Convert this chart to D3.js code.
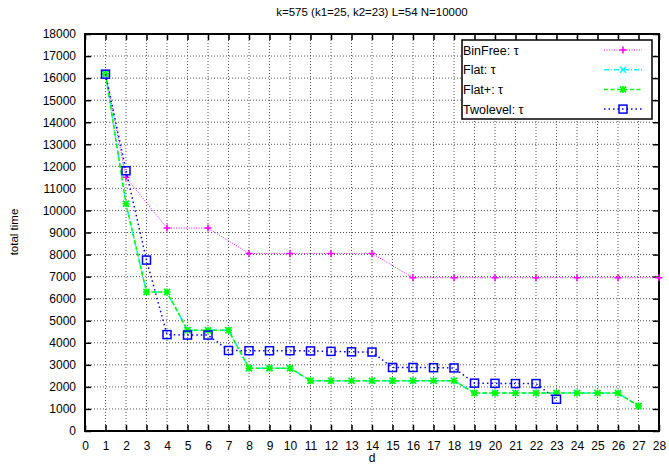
<!DOCTYPE html>
<html>
<head>
<meta charset="utf-8">
<script src="https://cdn.jsdelivr.net/npm/d3@7"></script>
<style>
  body { margin: 0; background: #fff; }
  text { font-family: "Liberation Sans", Arial, sans-serif; }
</style>
</head>
<body>
<svg id="chart"></svg>
<script>
// data
var dValues = d3.range(1, 28);
var binFreeD = [1, 2, 4, 6, 8, 10, 12, 14, 16, 18, 20, 22, 24, 26, 28];
var binFree = [16200, 11500, 9200, 9200, 8050, 8050, 8050, 8050, 6950, 6950, 6950, 6950, 6950, 6950, 6950];
var flatPlus = [16200, 10300, 6300, 6300, 4570, 4570, 4570, 2850, 2850, 2850,
  2280, 2280, 2280, 2280, 2280, 2280, 2280, 2280,
  1720, 1720, 1720, 1720, 1720, 1720, 1720, 1720, 1130];
var flat = flatPlus.slice();
var twoLevelD = d3.range(1, 24);
var twoLevel = [16180, 11800, 7750, 4370, 4350, 4350, 3650, 3640, 3640, 3640,
  3630, 3610, 3590, 3580, 2880, 2880, 2870, 2860, 2170, 2160, 2150, 2150, 1440];
var xTicks = d3.range(0, 29);
var yTicks = d3.range(0, 18001, 1000);

var series = [
  {name: "BinFree: \u03c4", xs: binFreeD, ys: binFree, color: "#ff00ff", dash: "1,1.5", marker: "plus"},
  {name: "Flat: \u03c4", xs: dValues, ys: flat, color: "#00ffff", dash: "5,2,1,2", marker: "cross"},
  {name: "Flat+: \u03c4", xs: dValues, ys: flatPlus, color: "#00ff00", dash: "4,2.5", marker: "star"},
  {name: "Twolevel: \u03c4", xs: twoLevelD, ys: twoLevel, color: "#0000ff", dash: "1.5,3", marker: "square"}
];

var svgwidth = 669, svgheight = 466;
var margin = {top: 34, left: 85, right: 10, bottom: 35};
var width = 659 - margin.left;
var height = 431 - margin.top;

var svg = d3.select("#chart").attr("width", svgwidth).attr("height", svgheight);
var g = svg.append("g").attr("transform", "translate(" + margin.left + "," + margin.top + ")");

var xScale = d3.scaleLinear().domain([0, 28]).range([0, width]);
var yScale = d3.scaleLinear().domain([0, 18000]).range([height, 0]);

// grid
g.append("g").selectAll("line").data(xTicks.slice(1, -1)).enter().append("line")
  .attr("x1", function(d){ return xScale(d); }).attr("x2", function(d){ return xScale(d); })
  .attr("y1", 0).attr("y2", height)
  .attr("stroke", "#555").attr("stroke-width", 1).attr("stroke-dasharray", "1,2");
g.append("g").selectAll("line").data(yTicks.slice(1, -1)).enter().append("line")
  .attr("y1", function(d){ return yScale(d); }).attr("y2", function(d){ return yScale(d); })
  .attr("x1", 0).attr("x2", width)
  .attr("stroke", "#555").attr("stroke-width", 1).attr("stroke-dasharray", "1,2");

// axes (ticks inward, mirrored)
var xAxis = d3.axisBottom(xScale).tickValues(xTicks).tickSizeInner(-6).tickSizeOuter(0).tickPadding(10);
var yAxis = d3.axisLeft(yScale).tickValues(yTicks).tickSizeInner(-6).tickSizeOuter(0).tickPadding(9).tickFormat(d3.format("d"));
var xTop = d3.axisTop(xScale).tickValues(xTicks).tickSizeInner(-6).tickSizeOuter(0).tickFormat("");
var yRight = d3.axisRight(yScale).tickValues(yTicks).tickSizeInner(-6).tickSizeOuter(0).tickFormat("");

[
  g.append("g").attr("transform", "translate(0," + height + ")").call(xAxis),
  g.append("g").call(yAxis),
  g.append("g").call(xTop),
  g.append("g").attr("transform", "translate(" + width + ",0)").call(yRight)
].forEach(function(a){
  a.select(".domain").remove();
  a.selectAll(".tick line").attr("stroke", "#000").attr("stroke-width", 1.5);
  a.selectAll(".tick text").attr("font-size", 12).attr("fill", "#000")
    .attr("font-family", "'Liberation Sans', Arial, sans-serif");
});

g.append("rect").attr("width", width).attr("height", height)
  .attr("fill", "none").attr("stroke", "#000").attr("stroke-width", 2);

// markers
function drawMarker(sel, type, color) {
  if (type === "plus") {
    sel.append("path").attr("d", "M-3.5,0H3.5M0,-3.5V3.5");
  } else if (type === "cross") {
    sel.append("path").attr("d", "M-3,-3L3,3M-3,3L3,-3");
  } else if (type === "star") {
    sel.append("path").attr("d", "M-3.5,0H3.5M0,-3.5V3.5M-3,-3L3,3M-3,3L3,-3");
  } else {
    sel.append("rect").attr("x", -4).attr("y", -4).attr("width", 8).attr("height", 8)
      .attr("fill", "none");
  }
  sel.selectAll("path, rect").attr("stroke", color).attr("stroke-width", 1.5)
    .attr("fill", "none");
}

var line = d3.line().x(function(d){ return xScale(d[0]); }).y(function(d){ return yScale(d[1]); });

series.forEach(function(s) {
  var pts = s.xs.map(function(x, i){ return [x, s.ys[i]]; });
  g.append("path").datum(pts).attr("d", line)
    .attr("fill", "none").attr("stroke", s.color).attr("stroke-width", s.marker === "plus" ? 1 : 1.5)
    .attr("stroke-dasharray", s.dash);
  g.append("g").selectAll("g").data(pts).enter().append("g")
    .attr("transform", function(d){ return "translate(" + xScale(d[0]) + "," + yScale(d[1]) + ")"; })
    .each(function(){ drawMarker(d3.select(this), s.marker, s.color); });
});

// legend
var legend = svg.append("g").attr("transform", "translate(462,40)");
legend.append("rect").attr("width", 190).attr("height", 79)
  .attr("fill", "#fff").attr("stroke", "#000").attr("stroke-width", 1.5);
series.forEach(function(s, i) {
  var y = 10 + i * 19.7;
  legend.append("text").attr("x", 1).attr("y", y + 4.5).attr("font-size", 12.5).text(s.name);
  legend.append("line").attr("x1", 142).attr("x2", 180).attr("y1", y).attr("y2", y)
    .attr("stroke", s.color).attr("stroke-width", s.marker === "plus" ? 1 : 1.5).attr("stroke-dasharray", s.dash);
  drawMarker(legend.append("g").attr("transform", "translate(161," + y + ")"), s.marker, s.color);
});

// titles
svg.append("text").attr("x", 372).attr("y", 16).attr("text-anchor", "middle")
  .attr("font-size", 11.5).text("k=575 (k1=25, k2=23) L=54  N=10000");
svg.append("text").attr("transform", "translate(18,232) rotate(-90)").attr("text-anchor", "middle")
  .attr("font-size", 11.5).text("total time");
svg.append("text").attr("x", 372).attr("y", 462).attr("text-anchor", "middle")
  .attr("font-size", 12).text("d");
</script>
</body>
</html>
